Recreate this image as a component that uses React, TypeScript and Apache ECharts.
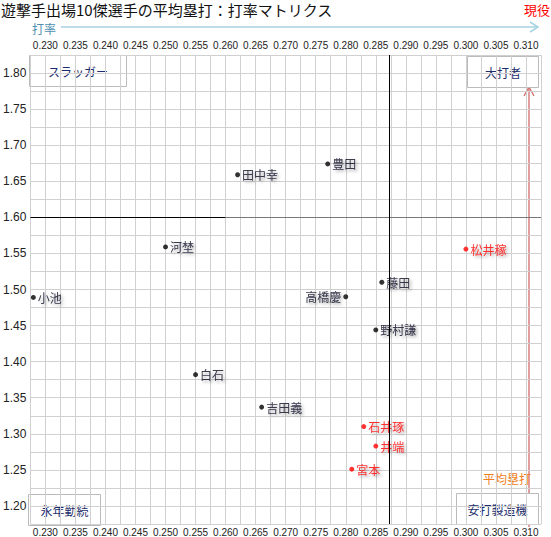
import React, { useEffect, useRef } from 'react';
import * as echarts from 'echarts';

// 引退選手
const retiredNames = ['田中幸', '豊田', '河埜', '小池', '藤田', '高橋慶', '野村謙', '白石', '吉田義'];
const retiredAvg = [0.262, 0.277, 0.250, 0.228, 0.286, 0.280, 0.285, 0.255, 0.266];
const retiredSlg = [1.659, 1.674, 1.559, 1.489, 1.510, 1.490, 1.444, 1.382, 1.337];

// 現役選手
const activeNames = ['松井稼', '石井琢', '井端', '宮本'];
const activeAvg = [0.300, 0.283, 0.285, 0.281];
const activeSlg = [1.556, 1.310, 1.283, 1.251];

const avgLine = 0.2872;
const slgLine = 1.6;
const slgBreak = 0.26;

const xMin = 0.2275;
const xMax = 0.3125;
const yMin = 1.175;
const yMax = 1.825;

const FONT = '"Noto Sans CJK JP", "Liberation Sans", sans-serif';
const NUM_FONT = '"Liberation Sans", Arial, sans-serif';

const labelShadow = {
  textShadowColor: 'rgba(0,0,0,0.4)',
  textShadowBlur: 3,
  textShadowOffsetX: 2,
  textShadowOffsetY: 2,
};

const quadBox = (x: number, y: number, w: number, h: number, text: string) => ({
  type: 'group',
  x,
  y,
  children: [
    { type: 'rect', shape: { x: 0, y: 0, width: w, height: h }, style: { fill: '#fff', stroke: '#bbb', lineWidth: 1 } },
    {
      type: 'text',
      x: w / 2,
      y: h / 2,
      style: { text, fill: '#1c2d6b', font: `12px ${FONT}`, align: 'center', verticalAlign: 'middle' },
    },
  ],
});

export default function App() {
  const chartRef = useRef<HTMLDivElement>(null);

  useEffect(() => {
    document.body.style.margin = '0';
    const chart = echarts.init(chartRef.current, null, { renderer: 'svg' });

    const xLabel = (v: number) => (Math.round(v * 10000) % 50 === 0 ? v.toFixed(3) : '');
    const yLabel = (v: number) => (Math.round(v * 1000) % 50 === 0 ? v.toFixed(2) : '');

    const option = {
      animation: false,
      textStyle: { fontFamily: FONT },
      title: {
        text: '遊撃手出場10傑選手の平均塁打：打率マトリクス',
        left: 1,
        top: 2,
        padding: 0,
        textStyle: { fontSize: 15, fontWeight: 'normal', color: '#111', fontFamily: FONT },
      },
      grid: { left: 30, right: 10, top: 55, bottom: 12 },
      xAxis: [
        {
          type: 'value',
          min: xMin,
          max: xMax,
          interval: 0.0025,
          position: 'bottom',
          axisLine: { show: false },
          axisTick: { show: false },
          axisLabel: { formatter: xLabel, fontSize: 10, color: '#222', margin: 3, fontFamily: NUM_FONT },
          splitLine: { show: true, lineStyle: { color: '#d0d0d0', width: 1 } },
        },
        {
          type: 'value',
          min: xMin,
          max: xMax,
          interval: 0.0025,
          position: 'top',
          axisLine: { show: false },
          axisTick: { show: false },
          axisLabel: { formatter: xLabel, fontSize: 10, color: '#222', margin: 5, fontFamily: NUM_FONT },
          splitLine: { show: false },
        },
      ],
      yAxis: {
        type: 'value',
        min: yMin,
        max: yMax,
        interval: 0.025,
        axisLine: { show: false },
        axisTick: { show: false },
        axisLabel: { formatter: yLabel, fontSize: 12, color: '#222', margin: 4, fontFamily: NUM_FONT },
        splitLine: { show: true, lineStyle: { color: '#d0d0d0', width: 1 } },
      },
      series: [
        {
          name: '引退',
          type: 'scatter',
          symbolSize: 5,
          itemStyle: { color: '#000' },
          data: retiredNames.map((n, i) => ({
            name: n,
            value: [retiredAvg[i], retiredSlg[i]],
            label: n === '高橋慶' ? { position: 'left' } : undefined,
          })),
          label: {
            show: true,
            position: 'right',
            distance: 2,
            formatter: '{b}',
            color: '#0a0a1e',
            fontSize: 12,
            fontFamily: FONT,
            ...labelShadow,
          },
          markLine: {
            silent: true,
            symbol: 'none',
            precision: 4,
            label: { show: false },
            data: [
              [
                { coord: [xMin, slgLine], lineStyle: { color: '#000', width: 1, type: 'solid' } },
                { coord: [slgBreak, slgLine] },
              ],
              [
                { coord: [slgBreak, slgLine], lineStyle: { color: '#777', width: 1, type: 'solid' } },
                { coord: [xMax, slgLine] },
              ],
              { xAxis: avgLine, lineStyle: { color: '#000', width: 1, type: 'solid' } },
            ],
          },
        },
        {
          name: '現役',
          type: 'scatter',
          symbolSize: 5,
          itemStyle: { color: '#f00' },
          data: activeNames.map((n, i) => ({ name: n, value: [activeAvg[i], activeSlg[i]] })),
          label: {
            show: true,
            position: 'right',
            distance: 2,
            formatter: '{b}',
            color: '#f00',
            fontSize: 12,
            fontFamily: FONT,
            ...labelShadow,
          },
        },
      ],
      graphic: [
        // 打率 arrow
        { type: 'text', x: 32, y: 28, style: { text: '打率', fill: '#4f8fb0', font: `12px ${FONT}`, verticalAlign: 'middle' } },
        { type: 'line', shape: { x1: 61, y1: 27, x2: 538, y2: 27 }, style: { stroke: '#a6d2e2', lineWidth: 1.5 } },
        { type: 'polyline', shape: { points: [[530, 22], [538, 27], [530, 32]] }, style: { stroke: '#a6d2e2', lineWidth: 1.5, fill: 'none' } },
        // 平均塁打 arrow
        { type: 'line', shape: { x1: 529, y1: 527, x2: 529, y2: 87 }, style: { stroke: '#d26b6b', lineWidth: 1.3 } },
        { type: 'polyline', shape: { points: [[524, 96], [529, 87], [534, 96]] }, style: { stroke: '#d26b6b', lineWidth: 1.3, fill: 'none' } },
        { type: 'text', x: 483, y: 478, style: { text: '平均塁打', fill: '#f07f1c', font: `12px ${FONT}`, verticalAlign: 'middle' } },
        { type: 'text', x: 524, y: 9, style: { text: '現役', fill: '#f00', font: `13px ${FONT}`, verticalAlign: 'middle' } },
        quadBox(29.5, 55.5, 97, 31, 'スラッガー'),
        quadBox(467.5, 56.5, 71, 31, '大打者'),
        quadBox(28.5, 494.5, 72, 31, '永年勤続'),
        quadBox(456.5, 493.5, 82, 31, '安打製造機'),
      ],
    };

    chart.setOption(option as any);
    return () => chart.dispose();
  }, []);

  return <div ref={chartRef} style={{ width: 551, height: 537 }} />;
}
